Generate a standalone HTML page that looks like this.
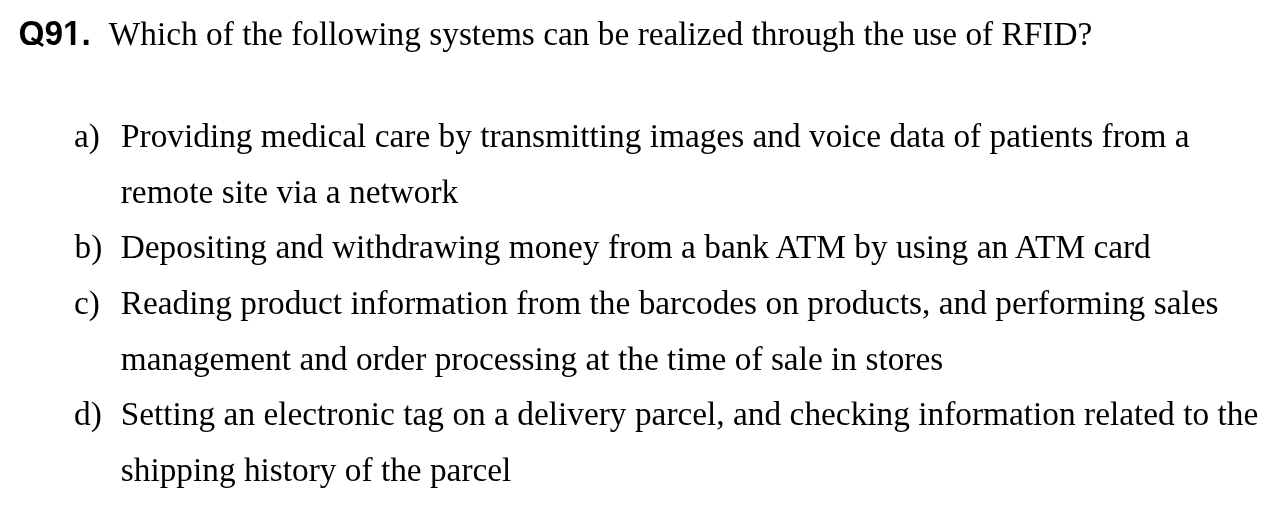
<!DOCTYPE html>
<html>
<head>
<meta charset="utf-8">
<style>
html,body{margin:0;padding:0;background:#fff;}
body{width:1276px;height:508px;position:relative;overflow:hidden;color:#000;
  font-family:"Liberation Serif",serif;font-size:33.333px;}
#pg{position:absolute;left:0;top:0;width:1276px;height:508px;will-change:transform;}
.l{position:absolute;white-space:nowrap;line-height:40px;height:40px;}
.q{font-family:"Liberation Sans",sans-serif;font-weight:bold;font-size:33.333px;transform:scaleY(1.05);transform-origin:0 31px;}
</style>
</head>
<body>
<div id="pg">
<div class="l q" style="left:18.6px;top:14px;">Q91.</div>
<div style="position:absolute;left:26px;top:45px;width:18px;height:8px;background:#fff;"></div>
<svg style="position:absolute;left:26px;top:32px;" width="24" height="20" viewBox="26 32 24 20"><polygon points="32.4,36.9 43.95,44.5 42.35,46.9 30.8,39.3" fill="#000"/></svg>
<div style="position:absolute;left:63px;top:40px;width:7px;height:6px;background:#fff;"></div>
<div style="position:absolute;left:76px;top:40px;width:7px;height:6px;background:#fff;"></div>
<div style="position:absolute;left:70px;top:41px;width:1px;height:4px;background:rgba(255,255,255,0.78);"></div>
<div style="position:absolute;left:75px;top:41px;width:1px;height:4px;background:rgba(255,255,255,0.643);"></div>
<div class="l" style="left:108.8px;top:14px;word-spacing:0.05px;">Which of the following systems can be realized through the use of RFID?</div>

<div class="l" style="left:74px;top:116px;">a)</div>
<div class="l" style="left:121px;top:116px;word-spacing:0.04px;">Providing medical care by transmitting images and voice data of patients from a</div>
<div class="l" style="left:120.75px;top:172px;word-spacing:0.15px;">remote site via a network</div>

<div class="l" style="left:74.5px;top:227px;">b)</div>
<div class="l" style="left:120.75px;top:227px;word-spacing:0.06px;">Depositing and withdrawing money from a bank ATM by using an ATM card</div>

<div class="l" style="left:74px;top:283px;">c)</div>
<div class="l" style="left:120.75px;top:283px;word-spacing:0.1px;">Reading product information from the barcodes on products, and performing sales</div>
<div class="l" style="left:120.75px;top:339px;word-spacing:0.06px;">management and order processing at the time of sale in stores</div>

<div class="l" style="left:74px;top:394px;">d)</div>
<div class="l" style="left:120.75px;top:394px;word-spacing:0.08px;">Setting an electronic tag on a delivery parcel, and checking information related to the</div>
<div class="l" style="left:120.75px;top:450px;">shipping history of the parcel</div>
</div>
</body>
</html>
